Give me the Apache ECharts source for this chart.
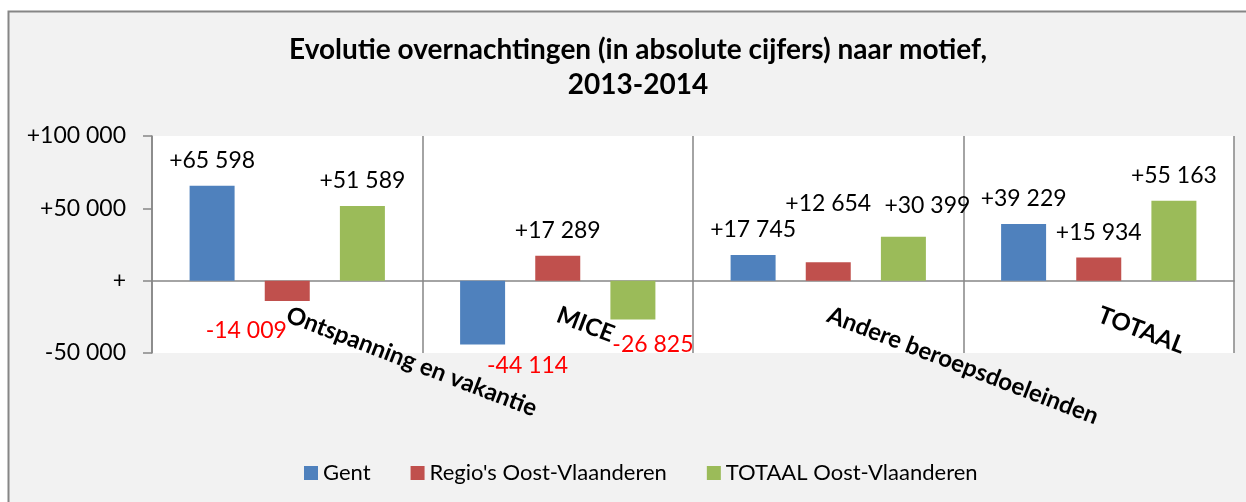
<!DOCTYPE html>
<html>
<head>
<meta charset="utf-8">
<script src="https://cdn.jsdelivr.net/npm/echarts@6/dist/echarts.min.js"></script>
<style>
  html, body { margin: 0; padding: 0; background: #fff; }
  #chart { width: 1246px; height: 502px; }
</style>
</head>
<body>
<div id="chart"></div>
<script>
var categories = ['Ontspanning en vakantie', 'MICE', 'Andere beroepsdoeleinden', 'TOTAAL'];
var seriesNames = ['Gent', "Regio's Oost-Vlaanderen", 'TOTAAL Oost-Vlaanderen'];
var gent = [65598, -44114, 17745, 39229];
var regios = [-14009, 17289, 12654, 15934];
var totaal = [51589, -26825, 30399, 55163];
var yTicks = [-50000, 0, 50000, 100000];

(function(){
    var myChart = echarts.init(document.getElementById('chart'));
    var colors = ['#4f81bd', '#c0504d', '#9bbb59'];
    var font = 'Lato';

    // manual label nudges, like the hand-moved labels in the original
    var nudge = {
        '1-0': [-41, 4],
        '0-1': [45, -4],
        '2-1': [20, 0],
        '1-2': [0, -33],
        '2-2': [24, -6]
    };

    function fmt(v) {
        if (v === 0) return '+';
        var s = String(Math.abs(v)).replace(/\B(?=(\d{3})+(?!\d))/g, ' ');
        return (v > 0 ? '+' : '-') + s;
    }

    function build(values, si) {
        return values.map(function(v, i) {
            var n = nudge[si + '-' + i] || [0, 0];
            return {
                value: v,
                label: {
                    position: v < 0 ? 'bottom' : 'top',
                    color: v < 0 ? '#ff0000' : '#000000',
                    offset: n
                }
            };
        });
    }

    var allSeries = [gent, regios, totaal].map(function(vals, si) {
        return {
            name: seriesNames[si],
            type: 'bar',
            data: build(vals, si),
            barWidth: 45,
            barGap: '67%',
            label: {
                show: true,
                distance: 14,
                fontFamily: font,
                fontSize: 23,
                formatter: function(p) { return fmt(p.value); }
            }
        };
    });

    var option = {
        backgroundColor: '#ffffff',
        color: colors,
        animation: false,
        graphic: [{
            type: 'rect',
            z: -10,
            shape: { x: 8.5, y: 11.5, width: 1260, height: 520 },
            style: { fill: '#f2f2f2', stroke: '#868686', lineWidth: 2 }
        }],
        title: {
            text: 'Evolutie overnachtingen (in absolute cijfers) naar motief,\n2013-2014',
            left: 633,
            top: 27,
            textAlign: 'center',
            textStyle: {
                fontFamily: font,
                fontWeight: 'bold',
                fontSize: 28,
                lineHeight: 35,
                color: '#000'
            }
        },
        grid: {
            show: true,
            left: 152,
            top: 136,
            right: 12,
            bottom: 149,
            backgroundColor: '#ffffff',
            borderWidth: 0
        },
        legend: {
            left: 299,
            top: 457,
            itemWidth: 14,
            itemHeight: 14,
            itemGap: 40,
            icon: 'rect',
            textStyle: { fontFamily: font, fontSize: 22, color: '#000', padding: 0 },
            data: seriesNames
        },
        xAxis: {
            type: 'category',
            data: categories,
            axisLine: { onZero: true, lineStyle: { color: '#868686', width: 1.5 } },
            axisTick: { show: false },
            splitLine: { show: true, lineStyle: { color: '#868686', width: 1.5 } },
            axisLabel: {
                interval: 0,
                rotate: -21,
                margin: -39,
                fontFamily: font,
                fontWeight: 'bold',
                fontSize: 24,
                color: '#000'
            }
        },
        yAxis: {
            type: 'value',
            min: yTicks[0],
            max: yTicks[yTicks.length - 1],
            interval: 50000,
            splitLine: { show: false },
            axisLine: { show: true, lineStyle: { color: '#868686', width: 1.5 } },
            axisTick: { show: true, length: 9, lineStyle: { color: '#868686', width: 1.5 } },
            axisLabel: {
                margin: 26,
                fontFamily: font,
                fontSize: 23,
                color: '#000',
                formatter: fmt
            }
        },
        series: allSeries
    };
    myChart.setOption(option);
    window.addEventListener('resize', function() {
        myChart.resize();
    })
})();
</script>
</body>
</html>
